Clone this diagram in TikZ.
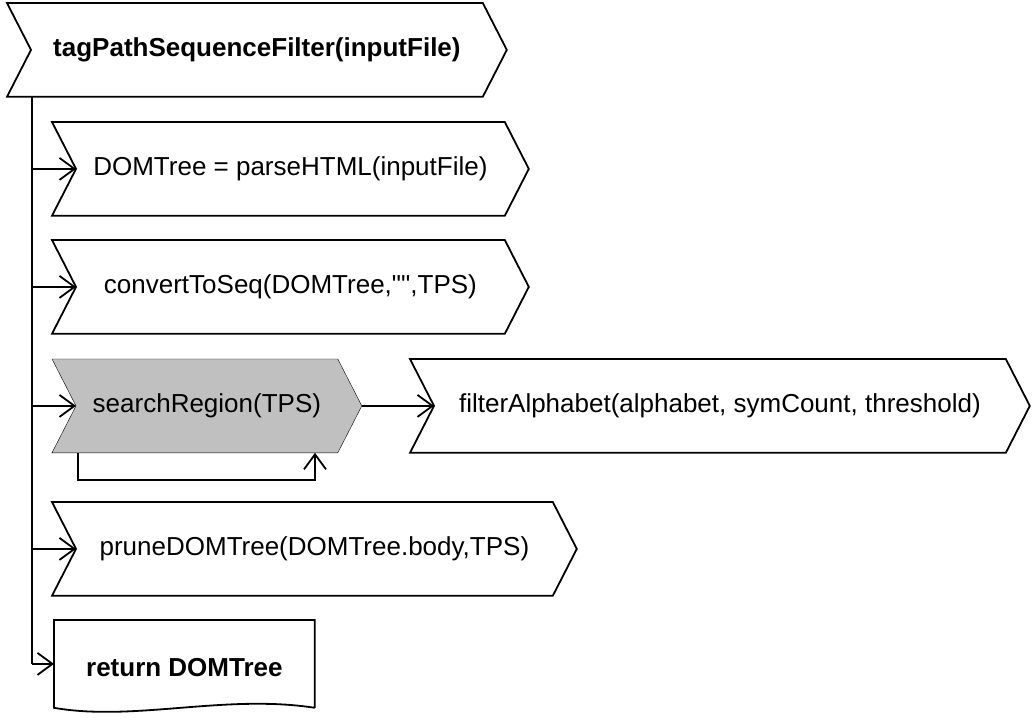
\documentclass[tikz,border=0pt]{standalone}
\usepackage{fontspec}
\setmainfont{Liberation Sans}[Ligatures=TeXOff]
\usepackage{xcolor}
\usetikzlibrary{arrows.meta,calc,backgrounds}
\definecolor{cinza}{RGB}{192,192,192}
\tikzset{
    passo/.style={
        rectangle,
        anchor=north west,
        inner sep=0pt,
        minimum height=92pt,
        font=\fontsize{26}{30}\selectfont
    },
    titulo/.style={passo, font=\fontsize{26}{30}\selectfont\bfseries},
    fluxo/.style={-{Straight Barb[length=15pt,width=22pt]}}
}
% contorno em forma de seta (entalhe a esquerda, ponta a direita)
\newcommand{\contorno}[2][]{%
    \draw[#1] (#2.north west) -- ($(#2.north east)+(-24,0)$) -- (#2.east)
        -- ($(#2.south east)+(-24,0)$) -- (#2.south west)
        -- ($(#2.west)+(24,0)$) -- cycle;}

\begin{document}
\begin{tikzpicture}[x=1pt, y=-1pt, line width=1.8pt]
    \useasboundingbox (0,0) rectangle (1035,723);

    \node[titulo, minimum width=498pt] (filtro) at (7,3)
    {tagPathSequenceFilter(inputFile)};

    \node[passo, minimum width=475pt] (parse) at (52,122)
    {DOMTree = parseHTML(inputFile)};

    \node[passo, minimum width=475pt] (converte) at (52,240)
    {convertToSeq(DOMTree,"",TPS)};

    \node[passo, minimum width=308pt] (busca) at (52,359)
    {searchRegion(TPS)};

    \node[passo, minimum width=618pt] (alfabeto) at (410,359)
    {filterAlphabet(alphabet, symCount, threshold)};

    \node[passo, minimum width=523pt] (poda) at (52,502)
    {pruneDOMTree(DOMTree.body,TPS)};

    \node[titulo, minimum width=259pt, minimum height=86pt,
          text height=26pt, text depth=0pt] (retorno) at (54,620)
    {return DOMTree};

    \begin{scope}[on background layer]
        \contorno[fill=cinza]{busca}
    \end{scope}
    \contorno{filtro}
    \contorno{parse}
    \contorno{converte}
    \contorno{alfabeto}
    \contorno{poda}
    \draw (retorno.south east) -- (retorno.north east) -- (retorno.north west)
        -- (retorno.south west) .. controls +(80,14) and +(-90,-14) .. (retorno.south east);

    % linha principal
    \coordinate (tronco) at ($(filtro.south west)+(25,0)$);
    \draw (tronco) -- (tronco |- retorno.west);

    \draw[fluxo] (tronco |- parse.west) -- ($(parse.west)+(24,0)$);
    \draw[fluxo] (tronco |- converte.west) -- ($(converte.west)+(24,0)$);
    \draw[fluxo] (tronco |- busca.west) -- ($(busca.west)+(24,0)$);
    \draw[fluxo] (tronco |- poda.west) -- ($(poda.west)+(24,0)$);
    \draw[fluxo] (tronco |- retorno.west) -- (retorno.west);

    \draw[fluxo] (busca.east) -- ($(alfabeto.west)+(24,0)$);

    % laco de searchRegion
    \coordinate (lacoA) at ($(busca.south west)+(26,0)$);
    \coordinate (lacoB) at ($(busca.south west)+(263,0)$);
    \draw[fluxo] (lacoA) -- ++(0,27) -| (lacoB);

\end{tikzpicture}
\end{document}
